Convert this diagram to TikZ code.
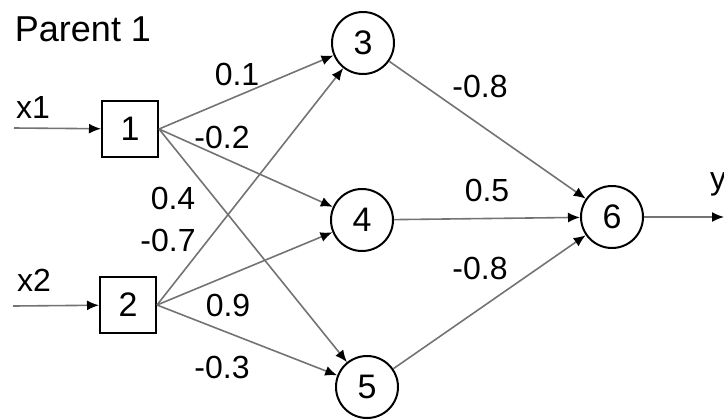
\documentclass[tikz,border=0pt]{standalone}
\usepackage{fontspec}
\setmainfont{Liberation Sans}
\usetikzlibrary{arrows.meta}

\begin{document}
\begin{tikzpicture}[
        x=0.5pt, y=-0.5pt,
        % Define styles for the network parts
        neuron/.style={circle, draw, line width=1pt, minimum size=31pt, inner sep=0pt, font=\fontsize{17}{19}\selectfont},
        inbox/.style={rectangle, draw, line width=1pt, minimum size=28pt, inner sep=0pt, font=\fontsize{17}{19}\selectfont},
        weight/.style={font=\fontsize{16}{18}\selectfont, inner sep=1pt},
        tag/.style={font=\fontsize{16}{18}\selectfont, inner sep=1pt},
        line/.style={draw, -{Latex[length=6pt, width=5pt, color=black]}, line width=0.8pt, color=black!55}
    ]
    \useasboundingbox (0,0) rectangle (724,419);

    % --- Nodes ---
    % Title
    \node [font=\fontsize{18}{20}\selectfont, inner sep=0pt] (title) at (83,29) {Parent 1};

    % Inputs
    \node [inbox] (n1) at (130,129) {1};
    \node [inbox] (n2) at (128,305) {2};
    \node [tag] (x1) at (33,107) {x1};
    \node [tag] (x2) at (34,280) {x2};
    \coordinate (in1) at (14,128);
    \coordinate (in2) at (13,306);

    % Hidden layer
    \node [neuron] (n3) at (363,43) {3};
    \node [neuron] (n4) at (362,220) {4};
    \node [neuron] (n5) at (367,387) {5};

    % Output
    \node [neuron] (n6) at (612,217) {6};
    \node [tag] (y) at (718,184) {y};
    \coordinate (out) at (724,217);

    % Weights
    \node [weight] (w13) at (237,74) {0.1};
    \node [weight] (w14) at (222,137) {-0.2};
    \node [weight] (w15) at (173,198) {0.4};
    \node [weight] (w23) at (168,240) {-0.7};
    \node [weight] (w24) at (228,305) {0.9};
    \node [weight] (w25) at (222,367) {-0.3};
    \node [weight] (w36) at (480,86) {-0.8};
    \node [weight] (w46) at (487,190) {0.5};
    \node [weight] (w56) at (480,268) {-0.8};

    % --- Edges (Arrows) ---
    \path [line] (in1) -- (n1);
    \path [line] (in2) -- (n2);

    \path [line] (n1.east) -- (n3);
    \path [line] (n1.east) -- (n4);
    \path [line] (n1.east) -- (n5);

    \path [line] (n2.east) -- (n3);
    \path [line] (n2.east) -- (n4);
    \path [line] (n2.east) -- (n5);

    \path [line] (n3) -- (n6);
    \path [line] (n4) -- (n6);
    \path [line] (n5) -- (n6);

    \path [line] (n6) -- (out);

\end{tikzpicture}
\end{document}
